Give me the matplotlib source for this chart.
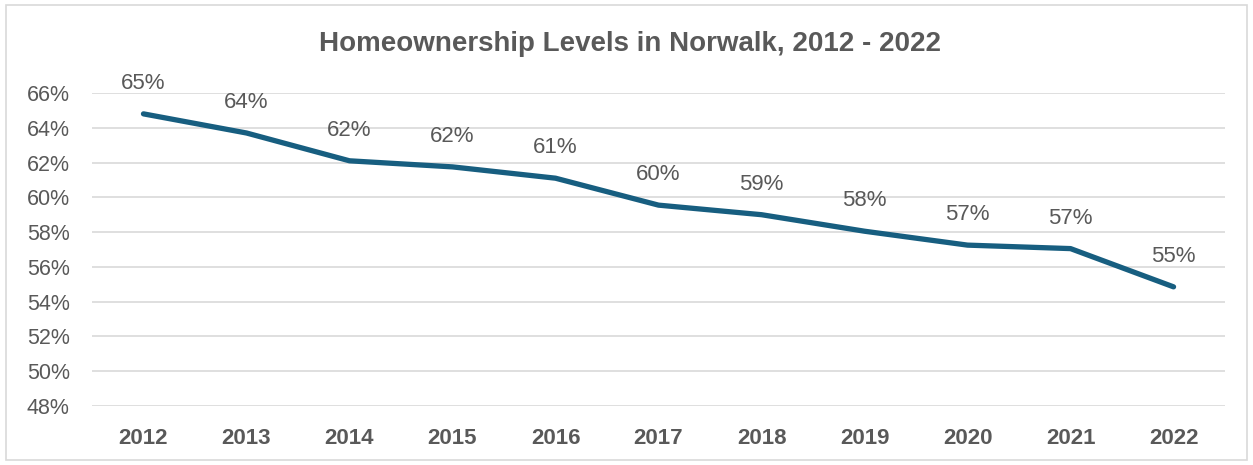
import matplotlib.pyplot as plt
from matplotlib.patches import Rectangle
from matplotlib.ticker import FuncFormatter

# data
years = ["2012", "2013", "2014", "2015", "2016", "2017", "2018", "2019", "2020", "2021", "2022"]
ownership = [64.8, 63.7, 62.1, 61.75, 61.1, 59.55, 59.0, 58.05, 57.25, 57.05, 54.85]
y_ticks = [48, 50, 52, 54, 56, 58, 60, 62, 64, 66]

LINE = "#175E80"
TEXT = "#595959"
GRID = "#D9D9D9"

plt.rcParams["font.family"] = ["Liberation Sans", "DejaVu Sans"]

fig = plt.figure(figsize=(12.53, 4.65), dpi=100)
fig.patch.set_facecolor("white")

# light chart-area border
fig.patches.append(Rectangle((0.005, 0.01), 0.99, 0.98, transform=fig.transFigure,
                             fill=False, edgecolor=GRID, linewidth=1.2))

ax = fig.add_axes([0.0734, 0.127, 0.9043, 0.673])
x = list(range(len(years)))
ax.plot(x, ownership, color=LINE, linewidth=3.8, solid_capstyle="round", solid_joinstyle="round")

for xi, v in zip(x, ownership):
    ax.annotate(f"{v:.0f}%", (xi, v), xytext=(0, 22), textcoords="offset points",
                ha="center", va="center", fontsize=16, color=TEXT)

ax.set_xlim(-0.5, len(years) - 0.5)
ax.set_ylim(48, 66)
ax.set_yticks(y_ticks)
ax.yaxis.set_major_formatter(FuncFormatter(lambda v, _: f"{v:.0f}%"))
ax.set_xticks(x)
ax.set_xticklabels(years, fontsize=16, fontweight="bold", color=TEXT)
ax.tick_params(axis="y", labelsize=15.5, labelcolor=TEXT, length=0, pad=16)
ax.tick_params(axis="x", length=0, pad=16)

ax.grid(axis="y", color=GRID, linewidth=1.2)
ax.set_axisbelow(True)
for s in ax.spines.values():
    s.set_visible(False)

fig.text(0.503, 0.905, "Homeownership Levels in Norwalk, 2012 - 2022", ha="center", va="center",
         fontsize=20, fontweight="bold", color=TEXT)

fig.savefig("out.png", dpi=100)
